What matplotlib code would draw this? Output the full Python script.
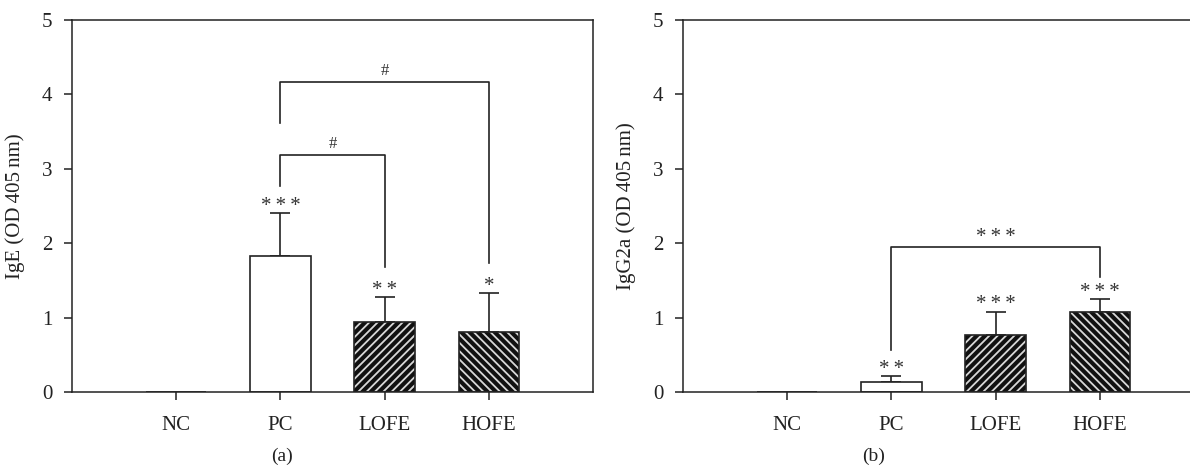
import numpy as np
import matplotlib
matplotlib.use("Agg")
import matplotlib.pyplot as plt

plt.rcParams['font.family'] = ['Liberation Serif', 'DejaVu Serif']
plt.rcParams['hatch.linewidth'] = 1.3

# data
groups = ['NC', 'PC', 'LOFE', 'HOFE']
ige_mean = [0.0, 1.83, 0.94, 0.80]
ige_err = [0.0, 0.57, 0.34, 0.53]
ige_stars = ['', '***', '**', '*']
igg_mean = [0.0, 0.135, 0.77, 1.08]
igg_err = [0.0, 0.08, 0.31, 0.17]
igg_stars = ['', '**', '***', '***']

# brackets: (from group, to group, height, left leg end, right leg end, label)
ige_brackets = [(1, 2, 3.18, 2.77, 1.68, '#'),
                (1, 3, 4.17, 3.62, 1.73, '#')]
igg_brackets = [(1, 3, 1.95, 0.57, 1.55, '***')]

hatches = [None, None, '////', '\\\\\\\\']
pos = np.arange(1, 5)
width = 0.58
dark = '#222222'


def fmt_stars(s):
    return '\u2009'.join(s)


def draw_panel(ax, mean, err, stars, brackets, ylabel):
    for i in range(len(groups)):
        if hatches[i] is None:
            ax.bar(pos[i], mean[i], width, color='white', edgecolor=dark, linewidth=1.2, zorder=2)
        else:
            ax.bar(pos[i], mean[i], width, color='#111111', edgecolor='#d8d8d8',
                   hatch=hatches[i], linewidth=0, zorder=2)
            ax.bar(pos[i], mean[i], width, fill=False, edgecolor=dark, linewidth=1.2, zorder=3)
        if mean[i] > 0:
            ax.errorbar(pos[i], mean[i], yerr=[[0], [err[i]]], color=dark, capsize=7,
                        elinewidth=1.2, capthick=1.2, zorder=1)
        if stars[i]:
            ax.text(pos[i], mean[i] + err[i] + 0.09, fmt_stars(stars[i]), ha='center',
                    va='center', fontsize=15, color='#333333')
    for a, b, h, la, lb, lab in brackets:
        ax.plot([pos[a], pos[a], pos[b], pos[b]], [la, h, h, lb], color=dark, lw=1.2)
        star = lab.startswith('*')
        ax.text((pos[a] + pos[b]) / 2, h + (0.12 if star else 0.15),
                fmt_stars(lab) if star else lab, ha='center', va='center',
                fontsize=15 if star else 12, color='#333333')

    ax.set_xlim(0, 5)
    ax.set_ylim(0, 5)
    ax.set_xticks(pos)
    ax.set_xticklabels(groups)
    ax.set_yticks(range(6))
    ax.tick_params(direction='out', length=6, width=1.1, colors=dark, labelsize=15,
                   labelcolor='#222222')
    ax.tick_params(axis='x', pad=11)
    ax.tick_params(axis='y', pad=8)
    for s in ax.spines.values():
        s.set_color(dark)
        s.set_linewidth(1.1)
    ax.set_ylabel(ylabel, fontsize=15, color='#222222', labelpad=12)


fig = plt.figure(figsize=(11.9, 4.71), dpi=100)
ax1 = fig.add_axes([72 / 1190, 79 / 471, 521 / 1190, 372 / 471])
ax2 = fig.add_axes([683 / 1190, 79 / 471, 521 / 1190, 372 / 471])

draw_panel(ax1, ige_mean, ige_err, ige_stars, ige_brackets, 'IgE (OD\u2009405\u2009nm)')
draw_panel(ax2, igg_mean, igg_err, igg_stars, igg_brackets, 'IgG2a (OD\u2009405\u2009nm)')

fig.text(282 / 1190, 1 - 456 / 471, '(a)', ha='center', va='center', fontsize=14, color='#222222')
fig.text(874 / 1190, 1 - 456 / 471, '(b)', ha='center', va='center', fontsize=14, color='#222222')

fig.savefig('out.png', dpi=100)
